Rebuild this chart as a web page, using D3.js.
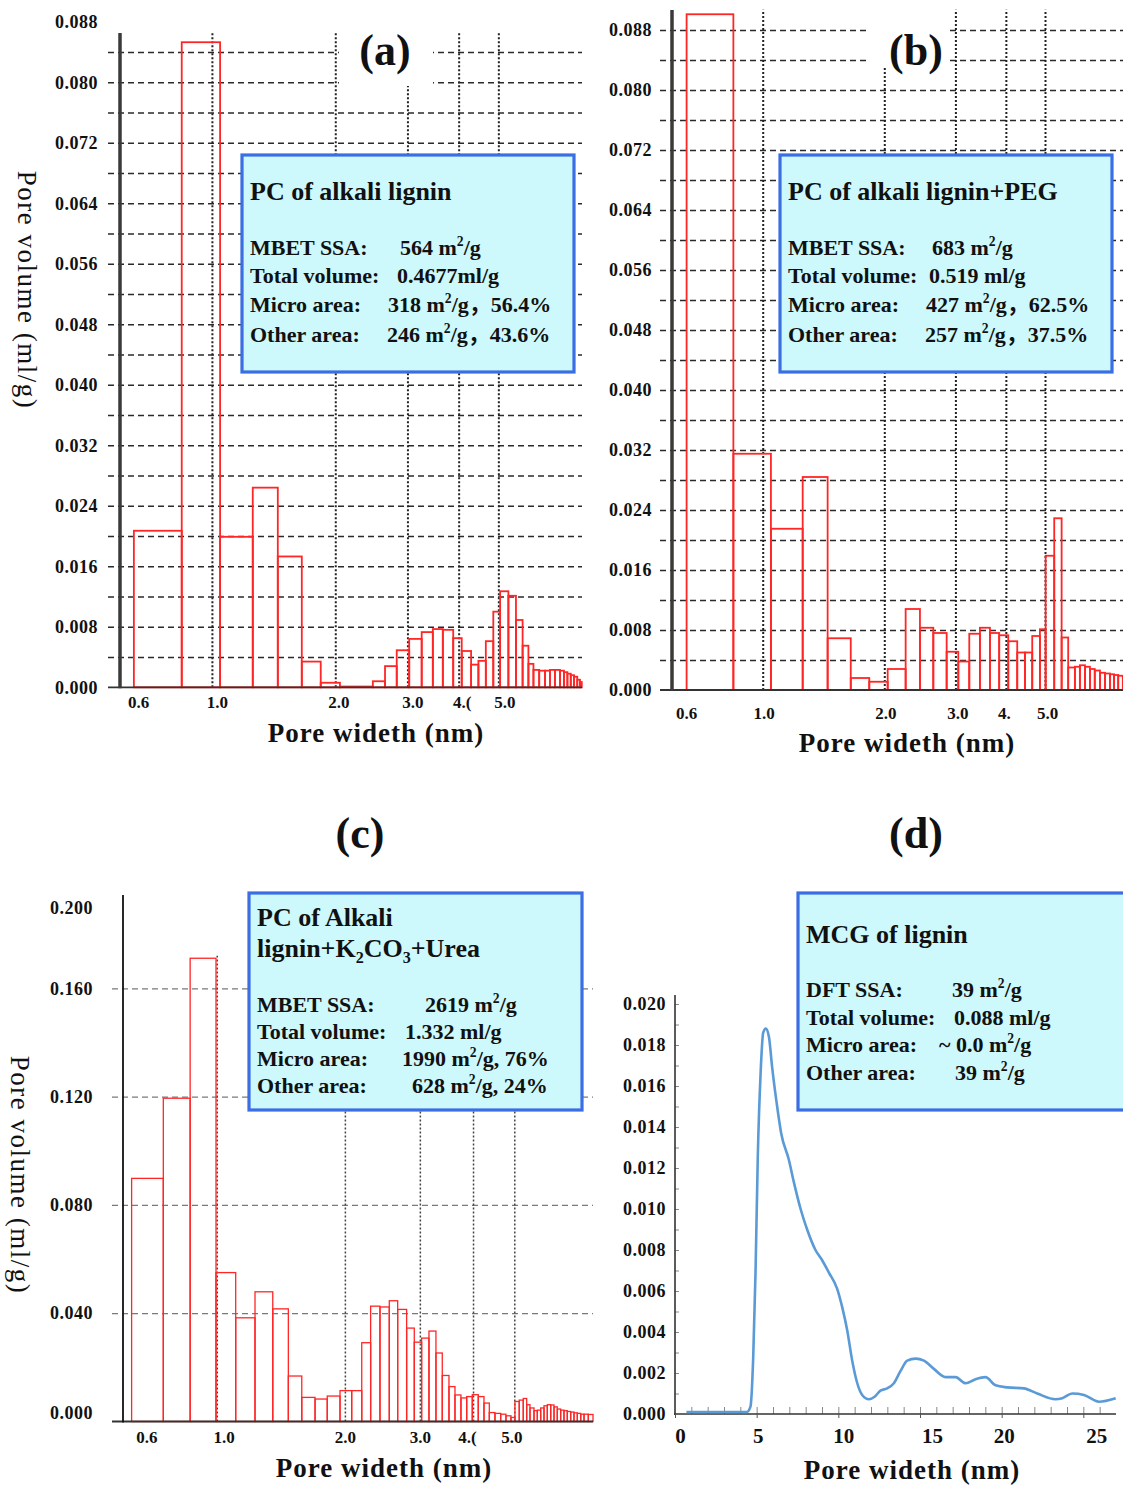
<!DOCTYPE html>
<html>
<head>
<meta charset="utf-8">
<script src="https://cdn.jsdelivr.net/npm/d3@7"></script>
<style>
body { margin: 0; background: #fff; }
svg { display: block; font-family: "Liberation Serif", "Times New Roman", serif; }
</style>
</head>
<body>
<svg id="fig" width="1123" height="1486"></svg>
<script>
// ---- data ----
// histogram bins: edges in nm, incremental pore volume in ml/g
const aEdges = [0.645, 0.844, 1.047, 1.258, 1.448, 1.657, 1.843, 2.053, 2.47, 2.645, 2.825, 3.03, 3.25, 3.46, 3.66, 3.88, 4.07, 4.29, 4.47, 4.66, 4.86, 5.05, 5.29, 5.52, 5.73, 5.92, 6.09, 6.29, 6.50, 6.68, 6.87, 7.07, 7.23, 7.37, 7.51, 7.65, 7.79, 7.91, 7.99];
const aVolume = [0.0207, 0.0853, 0.0199, 0.0264, 0.0173, 0.0034, 0.0006, 0.0001, 0.0008, 0.0028, 0.0049, 0.0064, 0.0073, 0.0077, 0.0076, 0.0065, 0.0048, 0.0030, 0.0035, 0.0061, 0.0100, 0.0127, 0.0121, 0.0089, 0.0055, 0.0031, 0.0023, 0.0022, 0.0022, 0.0023, 0.0023, 0.0022, 0.0020, 0.0018, 0.0016, 0.0014, 0.0010, 0.0007];

const bEdges = [0.648, 0.846, 1.048, 1.256, 1.448, 1.652, 1.836, 2.039, 2.259, 2.451, 2.645, 2.854, 3.05, 3.247, 3.45, 3.653, 3.851, 4.055, 4.268, 4.46, 4.649, 4.857, 5.018, 5.27, 5.497, 5.707, 5.929, 6.10, 6.28, 6.46, 6.64, 6.84, 7.04, 7.24, 7.41, 7.59, 7.79];
const bVolume = [0.0901, 0.0315, 0.0215, 0.0284, 0.0069, 0.0016, 0.0011, 0.0028, 0.0108, 0.0083, 0.0076, 0.0051, 0.0038, 0.0075, 0.0083, 0.0076, 0.0073, 0.0065, 0.0050, 0.0050, 0.0072, 0.0081, 0.0179, 0.0229, 0.0070, 0.0030, 0.0031, 0.0033, 0.0031, 0.0028, 0.0026, 0.0023, 0.0022, 0.0021, 0.0020, 0.0019];

const cEdges = [0.631, 0.749, 0.866, 0.996, 1.108, 1.230, 1.354, 1.473, 1.584, 1.702, 1.818, 1.948, 2.075, 2.191, 2.299, 2.418, 2.543, 2.661, 2.793, 2.911, 3.029, 3.152, 3.273, 3.387, 3.512, 3.628, 3.747, 3.865, 3.984, 4.115, 4.244, 4.368, 4.504, 4.645, 4.780, 4.911, 5.018, 5.136, 5.249, 5.347, 5.443, 5.563, 5.663, 5.768, 5.872, 5.978, 6.089, 6.199, 6.309, 6.426, 6.542, 6.660, 6.784, 6.906, 7.031, 7.162, 7.291, 7.462, 7.654];
const cVolume = [0.0898, 0.1194, 0.1711, 0.0550, 0.0383, 0.0479, 0.0416, 0.0168, 0.0089, 0.0083, 0.0094, 0.0114, 0.0114, 0.0291, 0.0426, 0.0423, 0.0446, 0.0414, 0.0345, 0.0293, 0.0308, 0.0334, 0.0253, 0.0170, 0.0129, 0.0098, 0.0087, 0.0092, 0.0099, 0.0092, 0.0068, 0.0033, 0.0030, 0.0027, 0.0021, 0.0015, 0.0074, 0.0079, 0.0085, 0.0062, 0.0050, 0.0040, 0.0042, 0.0050, 0.0058, 0.0062, 0.0061, 0.0054, 0.0046, 0.0042, 0.0040, 0.0037, 0.0035, 0.0032, 0.0030, 0.0027, 0.0027, 0.0026];

// MCG curve: pore width (nm) vs pore volume (ml/g)
const dWidth = [0.7, 4.4, 4.62, 4.79, 4.93, 5.07, 5.24, 5.40, 5.56, 5.75, 5.95, 6.22, 6.50, 6.97, 7.28, 7.69, 8.09, 8.60, 9.01, 9.42, 9.93, 10.24, 10.54, 10.85, 11.16, 11.46, 11.87, 12.22, 12.58, 12.99, 13.40, 13.81, 14.22, 14.73, 15.24, 15.85, 16.56, 17.18, 17.79, 18.40, 19.01, 19.63, 20.34, 21.36, 22.18, 23.30, 23.71, 24.32, 25.04, 25.95, 26.98];
const dVolume = [0.0001, 0.0001, 0.00036, 0.0028, 0.0069, 0.0126, 0.0166, 0.0186, 0.0188, 0.0184, 0.0169, 0.0152, 0.0137, 0.0124, 0.0113, 0.0100, 0.0090, 0.0080, 0.0075, 0.0069, 0.0061, 0.0052, 0.0041, 0.0026, 0.0015, 0.00093, 0.00072, 0.00084, 0.00114, 0.00125, 0.0015, 0.0021, 0.0026, 0.0027, 0.0026, 0.0022, 0.0018, 0.0018, 0.0015, 0.0017, 0.0018, 0.0014, 0.0013, 0.00125, 0.0010, 0.00072, 0.00077, 0.0010, 0.00093, 0.0006, 0.00077];

// tick values and labels
const widthTicks = [0.6, 1, 2, 3, 4, 5];
const widthLines = [1, 2, 3, 4, 5];
const aWidthLabels = ["0.6", "1.0", "2.0", "3.0", "4.(", "5.0"];
const bWidthLabels = ["0.6", "1.0", "2.0", "3.0", "4.", "5.0"];
const cWidthLabels = ["0.6", "1.0", "2.0", "3.0", "4.(", "5.0"];
const abVolumeTicks = [0, 0.008, 0.016, 0.024, 0.032, 0.040, 0.048, 0.056, 0.064, 0.072, 0.080, 0.088];
const cVolumeTicks = [0, 0.04, 0.08, 0.12, 0.16, 0.2];
const dVolumeTicks = [0, 0.002, 0.004, 0.006, 0.008, 0.010, 0.012, 0.014, 0.016, 0.018, 0.020];
const dWidthTicks = [0, 5, 10, 15, 20, 25];

const svg = d3.select("#fig");
const serif = '"Liberation Serif", "Times New Roman", serif';
const barRed = "#ff2626";
const fmt3 = d3.format(".3f");

// text with ^2 superscripts, _2 subscripts and full-width commas
function richText(sel, x, y, str, size, weight) {
	const t = sel.append("text").attr("x", x).attr("y", y).attr("font-size", size)
		.attr("font-weight", weight || "bold").attr("fill", "#111");
	let cur = 0;
	str.split(/(\^\d|_\d|，)/).forEach(part => {
		if(!part) return;
		let target = 0, fs = size, txt = part;
		if(part[0] === "^") { target = -0.42 * size; fs = size * 0.62; txt = part[1]; }
		else if(part[0] === "_") { target = 0.22 * size; fs = size * 0.62; txt = part[1]; }
		const ts = t.append("tspan").attr("dy", target - cur).attr("font-size", fs).text(txt);
		if(part === "，") ts.attr("font-family", '"Noto Sans CJK SC"');
		cur = target;
	});
	return t;
}

function histogram(p) {
	const x = d3.scaleLog().domain(p.xDomain).range(p.xRange);
	const y = d3.scaleLinear().domain(p.yDomain).range(p.yRange);
	const base = y(0), right = p.xRange[1];
	const g = svg.append("g");

	// horizontal dashed grid
	const grid = g.append("g").attr("transform", `translate(${p.gridLeft},0)`)
		.call(d3.axisLeft(y).tickValues(p.grid).tickSize(p.gridLeft - right).tickFormat(""));
	grid.select(".domain").remove();
	grid.selectAll("line").attr("stroke", p.gridColor).attr("stroke-width", p.gridWidth).attr("stroke-dasharray", p.gridDash);

	// vertical dotted lines at 1..5 nm
	const vert = g.append("g").attr("transform", `translate(0,${base})`)
		.call(d3.axisBottom(x).tickValues(widthLines).tickSize(y(p.vTop) - base).tickFormat(""));
	vert.select(".domain").remove();
	vert.selectAll("line").attr("stroke", p.vColor).attr("stroke-width", p.vWidth).attr("stroke-dasharray", "2,2");

	// bars
	g.append("g").selectAll("rect").data(p.volume).join("rect")
		.attr("x", (v, i) => x(p.edges[i]))
		.attr("width", (v, i) => x(p.edges[i + 1]) - x(p.edges[i]))
		.attr("y", v => y(v))
		.attr("height", v => base - y(v))
		.attr("fill", "none").attr("stroke", barRed).attr("stroke-width", p.barWidth);

	// baseline and y axis line
	g.append("line").attr("x1", p.gridLeft).attr("x2", right).attr("y1", base).attr("y2", base)
		.attr("stroke", "#333").attr("stroke-width", 1.8);
	g.append("line").attr("x1", p.axisX).attr("x2", p.axisX).attr("y1", p.axisTop).attr("y2", base + 1)
		.attr("stroke", p.axisColor).attr("stroke-width", p.axisWidth);

	// y tick labels
	const ya = g.append("g").attr("transform", `translate(${p.axisX},0)`)
		.call(d3.axisLeft(y).tickValues(p.yTicks).tickSize(0).tickPadding(p.yPad).tickFormat(fmt3));
	ya.select(".domain").remove();
	ya.attr("font-family", serif).attr("font-size", 18).attr("font-weight", "bold");
	ya.selectAll("text").attr("fill", "#111").attr("letter-spacing", 0.5)
		.attr("transform", d => `translate(0,${(p.yNudge && p.yNudge(d)) || 0})`);

	// x tick labels
	const xa = g.append("g").attr("transform", `translate(0,${p.xLabelY - 6})`)
		.call(d3.axisBottom(x).tickValues(widthTicks).tickSize(0).tickPadding(0).tickFormat((d, i) => p.xLabels[i]));
	xa.select(".domain").remove();
	xa.attr("font-family", serif).attr("font-size", 17).attr("font-weight", "bold");
	xa.selectAll("text").attr("fill", "#111").attr("dx", (d, i) => p.xShift[i]);

	// x title
	g.append("text").attr("x", p.xTitle[0]).attr("y", p.xTitle[1]).attr("text-anchor", "middle")
		.attr("font-size", 27).attr("font-weight", "bold").attr("letter-spacing", 1).attr("fill", "#111")
		.text("Pore wideth (nm)");
	return g;
}

function yTitle(x, y) {
	svg.append("text").attr("transform", `translate(${x},${y}) rotate(90)`).attr("text-anchor", "middle")
		.attr("dy", "0.35em").attr("font-size", 27).attr("letter-spacing", 1.5).attr("fill", "#111")
		.text("Pore volume (ml/g)");
}

function panelLabel(x, y, txt, mask) {
	if(mask) svg.append("rect").attr("x", mask[0]).attr("y", mask[1]).attr("width", mask[2]).attr("height", mask[3]).attr("fill", "#fff");
	svg.append("text").attr("x", x).attr("y", y).attr("text-anchor", "middle")
		.attr("font-size", 44).attr("font-weight", "bold").attr("fill", "#111").text(txt);
}

function infoBox(box, title, rows) {
	const g = svg.append("g");
	g.append("rect").attr("x", box[0]).attr("y", box[1]).attr("width", box[2]).attr("height", box[3])
		.attr("fill", "#cdf8fc").attr("stroke", "#3a6ee2").attr("stroke-width", 3.2);
	title.forEach(t => richText(g, t[0], t[1], t[2], 26));
	rows.forEach(r => {
		richText(g, r[0], r[2], r[3], 22);
		richText(g, r[1], r[2], r[4], 22);
	});
}

// ---- (a) ----
histogram({
	edges: aEdges, volume: aVolume,
	xDomain: [0.6, 8.0], xRange: [121, 582],
	yDomain: [0, 0.084], yRange: [687.3, 52.05],
	grid: d3.range(1, 22).map(i => i * 0.004), gridLeft: 108, gridColor: "#2a2a2a", gridDash: "6,4", gridWidth: 1.5,
	vTop: 0.0865, vColor: "#222", vWidth: 2, barWidth: 1.8,
	axisX: 120, axisTop: 33, axisColor: "#3a3a3a", axisWidth: 3.5,
	yTicks: abVolumeTicks, yPad: 22,
	xLabels: aWidthLabels, xShift: [17, 5, 3, 5, 3, 6], xLabelY: 702,
	xTitle: [376, 742]
});
yTitle(27, 290);
panelLabel(385, 65, "(a)", [339, 0, 94, 86]);
infoBox([242, 155, 332, 217], [[250, 200, "PC of alkali lignin"]], [
	[250, 400, 255, "MBET SSA:", "564 m^2/g"],
	[250, 397, 283, "Total volume:", "0.4677ml/g"],
	[250, 388, 312, "Micro area:", "318 m^2/g，56.4%"],
	[250, 387, 342, "Other area:", "246 m^2/g，43.6%"]
]);

// ---- (b) ----
histogram({
	edges: bEdges, volume: bVolume,
	xDomain: [0.6, 7.8], xRange: [673.1, 1123],
	yDomain: [0, 0.088], yRange: [690, 30],
	grid: d3.range(1, 23).map(i => i * 0.004), gridLeft: 660, gridColor: "#2a2a2a", gridDash: "6,4", gridWidth: 1.5,
	vTop: 0.0907, vColor: "#222", vWidth: 2, barWidth: 1.8,
	axisX: 672, axisTop: 10, axisColor: "#3a3a3a", axisWidth: 3.5,
	yTicks: abVolumeTicks, yPad: 20,
	xLabels: bWidthLabels, xShift: [13, 1, 1, 2, -2, 2], xLabelY: 713,
	xTitle: [907, 752]
});
panelLabel(916, 65, "(b)", [868, 0, 80, 66]);
infoBox([780, 155, 332, 217], [[788, 200, "PC of alkali lignin+PEG"]], [
	[788, 932, 255, "MBET SSA:", "683 m^2/g"],
	[788, 929, 283, "Total volume:", "0.519 ml/g"],
	[788, 926, 312, "Micro area:", "427 m^2/g，62.5%"],
	[788, 925, 342, "Other area:", "257 m^2/g，37.5%"]
]);

// ---- (c) ----
histogram({
	edges: cEdges, volume: cVolume,
	xDomain: [0.6, 7.654], xRange: [122.3, 593],
	yDomain: [0, 0.2], yRange: [1421.5, 880],
	grid: [0.04, 0.08, 0.12, 0.16], gridLeft: 112, gridColor: "#7a7a7a", gridDash: "6,4", gridWidth: 1.2,
	vTop: 0.172, vColor: "#444", vWidth: 1.5, barWidth: 1.3,
	axisX: 123, axisTop: 895, axisColor: "#111", axisWidth: 1.8,
	yTicks: cVolumeTicks, yPad: 30, yNudge: d => d === 0.2 ? 28 : (d === 0 ? -9 : 0),
	xLabels: cWidthLabels, xShift: [24, 7, 0, 0, -6, -3], xLabelY: 1437,
	xTitle: [384, 1477]
});
yTitle(20, 1175);
panelLabel(360, 848, "(c)");
infoBox([249, 893, 333, 217], [[257, 926, "PC of Alkali"], [257, 957, "lignin+K_2CO_3+Urea"]], [
	[257, 425, 1012, "MBET SSA:", "2619 m^2/g"],
	[257, 405, 1039, "Total volume:", "1.332 ml/g"],
	[257, 402, 1066, "Micro area:", "1990 m^2/g, 76%"],
	[257, 412, 1093, "Other area:", "628 m^2/g, 24%"]
]);

// ---- (d) ----
{
	const x = d3.scaleLinear().domain([0, 27]).range([675, 1116]);
	const y = d3.scaleLinear().domain([0, 0.02]).range([1414, 1004]);
	const g = svg.append("g");
	// minor ticks on y (inside) and x (upward)
	const ym = g.append("g").attr("transform", "translate(675,0)")
		.call(d3.axisRight(y).tickValues(d3.range(1, 21).map(i => i * 0.001)).tickSize(4).tickFormat(""));
	ym.select(".domain").remove();
	ym.selectAll("line").attr("stroke", "#888");
	const xm = g.append("g").attr("transform", "translate(0,1414)")
		.call(d3.axisBottom(x).tickValues(d3.range(1, 27)).tickSize(-7).tickFormat(""));
	xm.select(".domain").remove();
	xm.selectAll("line").attr("stroke", "#888");
	// axis lines
	g.append("line").attr("x1", 675).attr("x2", 675).attr("y1", 995).attr("y2", 1415).attr("stroke", "#333").attr("stroke-width", 1.6);
	g.append("line").attr("x1", 674).attr("x2", 1116).attr("y1", 1414).attr("y2", 1414).attr("stroke", "#333").attr("stroke-width", 1.6);
	// y labels
	const ya = g.append("g").attr("transform", "translate(675,0)")
		.call(d3.axisLeft(y).tickValues(dVolumeTicks).tickSize(0).tickPadding(9).tickFormat(fmt3));
	ya.select(".domain").remove();
	ya.attr("font-family", serif).attr("font-size", 18).attr("font-weight", "bold");
	ya.selectAll("text").attr("fill", "#111").attr("letter-spacing", 0.5);
	// x labels
	const xShift = [5, 1, 5, 12, 2, 13];
	const xa = g.append("g").attr("transform", "translate(0,1414)")
		.call(d3.axisBottom(x).tickValues(dWidthTicks).tickSize(4).tickPadding(10));
	xa.select(".domain").remove();
	xa.selectAll("line").attr("stroke", "#555");
	xa.attr("font-family", serif).attr("font-size", 21).attr("font-weight", "bold");
	xa.selectAll("text").attr("fill", "#111").attr("dx", (d, i) => xShift[i]);
	// curve
	const line = d3.line().curve(d3.curveMonotoneX).x((d, i) => x(dWidth[i])).y(d => y(d));
	g.append("path").attr("d", line(dVolume)).attr("fill", "none").attr("stroke", "#5a9ad6").attr("stroke-width", 2.6);
	g.append("text").attr("x", 912).attr("y", 1479).attr("text-anchor", "middle")
		.attr("font-size", 27).attr("font-weight", "bold").attr("letter-spacing", 1).attr("fill", "#111")
		.text("Pore wideth (nm)");
}
panelLabel(916, 848, "(d)");
infoBox([798, 893, 340, 217], [[806, 943, "MCG of lignin"]], [
	[806, 952, 997, "DFT SSA:", "39 m^2/g"],
	[806, 954, 1025, "Total volume:", "0.088 ml/g"],
	[806, 939, 1052, "Micro area:", "~ 0.0 m^2/g"],
	[806, 955, 1080, "Other area:", "39 m^2/g"]
]);
</script>
</body>
</html>
